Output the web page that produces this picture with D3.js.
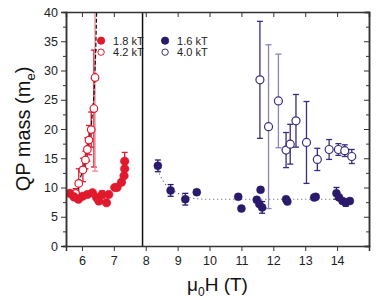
<!DOCTYPE html>
<html>
<head>
<meta charset="utf-8">
<script src="https://cdn.jsdelivr.net/npm/d3@7"></script>
<style>
  body { margin: 0; background: #fff; }
  text { font-family: "Liberation Sans", Arial, sans-serif; }
</style>
</head>
<body>
<div id="chart"></div>
<script>
// data: [field (T), mass (m_e), error]
var red18 = [[5.62,9.0,0],[5.75,8.4,0],[5.89,8.0,0],[6.02,8.5,0],[6.17,8.8,0],[6.33,9.1,0],
  [6.46,8.3,0],[6.53,7.7,0.5],[6.63,8.8,0.6],[6.77,7.4,0],[6.84,8.8,0],[7.03,10.0,0],[7.1,10.0,0],
  [7.24,10.9,0],[7.32,12.0,0],[7.34,13.2,1.3],[7.34,14.5,1.5]];
var red42 = [[5.8,9.0,0.8],[5.9,10.7,2.5],[6.03,13.0,2.0],[6.11,14.7,1.5],[6.17,16.5,2],
  [6.22,18.1,2.5],[6.29,19.9,3],[6.375,23.5,10],[6.41,28.8,16]];
var red42Light = [false,false,false,false,false,false,false,false,true];
var blue16 = [[8.38,13.7,1.0],[8.78,9.5,1.0],[9.24,8.0,1.0],[9.6,9.2,0.4],[10.9,8.4,0],[11.0,6.4,0],
  [11.6,9.6,0],[11.48,7.9,0],[11.56,7.2,0],[11.65,6.6,1.0],[12.4,8.0,0],[12.44,7.6,0],
  [13.28,8.3,0],[13.33,8.4,0],[13.98,9.0,1.0],[14.06,8.3,0],[14.17,7.7,0],[14.27,7.4,0.6],[14.4,7.7,0]];
var blue40 = [[11.58,28.4,10],[11.85,20.4,14],[12.16,24.8,8],[12.4,16.4,3],[12.53,17.4,3.4],
  [12.71,21.4,4.5],[13.04,17.7,7],[13.38,14.8,1.9],[13.75,16.5,1.7],[14.04,16.5,1],[14.24,16.3,1],[14.46,15.3,1.2]];
var blue40Light = [false,true,true,false,false,false,false,false,false,false,false,false];
var redFit = [[5.85,8.7],[5.96,11.8],[6.1,14.5],[6.2,17],[6.3,21],[6.38,26],[6.43,33],[6.46,40]];
var redFlat = [[5.62,8.6],[6.87,8.6]];
var blueFit = [[8.38,13.7],[8.44,12.1],[8.59,10.7],[8.75,9.9],[8.96,9.1],[9.17,8.7],[9.48,8.15],[9.8,8.0],[14.47,8.0]];
var divider = 7.9;
var xTicks = [6,7,8,9,10,11,12,13,14];
var yTicks = [0,5,10,15,20,25,30,35,40];
var yMinor = [2.5,7.5,12.5,17.5,22.5,27.5,32.5,37.5];
var legend = [
  {label:"1.8 kT", color:"#e0192d", filled:true, col:0, row:0},
  {label:"4.2 kT", color:"#e0192d", filled:false, col:0, row:1},
  {label:"1.6 kT", color:"#2b1a6b", filled:true, col:1, row:0},
  {label:"4.0 kT", color:"#3a2c7e", filled:false, col:1, row:1}
];

var W = 382, H = 304;
var margin = {top: 12, right: 13, bottom: 58, left: 66};
var width = W - margin.left - margin.right, height = H - margin.top - margin.bottom;

var svg = d3.select("#chart").append("svg").attr("width", W).attr("height", H);
var g = svg.append("g").attr("transform", "translate(" + margin.left + "," + margin.top + ")");

var x = d3.scaleLinear().domain([5.5, 15]).range([0, width]);
var y = d3.scaleLinear().domain([0, 40]).range([height, 0]);

svg.append("defs").append("clipPath").attr("id", "clip")
  .append("rect").attr("width", width).attr("height", height);

var plot = g.append("g").attr("clip-path", "url(#clip)");

// trennlinie
plot.append("line").attr("x1", x(divider)).attr("x2", x(divider))
  .attr("y1", 0).attr("y2", height).attr("stroke", "#111").attr("stroke-width", 1.5);

var line = d3.line().x(function(d){ return x(d[0]); }).y(function(d){ return y(d[1]); });

function errBars(data, color, lightArr, lightColor) {
  data.forEach(function(d, i) {
    if (!d[2]) return;
    var c = (lightArr && lightArr[i]) ? lightColor : color;
    var gx = x(d[0]);
    plot.append("line").attr("x1", gx).attr("x2", gx)
      .attr("y1", y(d[1] + d[2])).attr("y2", y(d[1] - d[2]))
      .attr("stroke", c).attr("stroke-width", 1.3);
    [d[1] + d[2], d[1] - d[2]].forEach(function(v) {
      plot.append("line").attr("x1", gx - 3).attr("x2", gx + 3)
        .attr("y1", y(v)).attr("y2", y(v)).attr("stroke", c).attr("stroke-width", 1.3);
    });
  });
}

errBars(red42, "#e0192d", red42Light, "#ef8a96");
errBars(red18, "#e0192d");
errBars(blue40, "#3a2c7e", blue40Light, "#8c82bd");
errBars(blue16, "#2b1a6b");

plot.append("path").datum(redFit).attr("d", line).attr("fill", "none")
  .attr("stroke", "#111").attr("stroke-width", 1.2).attr("stroke-dasharray", "4,2");
plot.append("path").datum(redFlat).attr("d", line).attr("fill", "none")
  .attr("stroke", "#222").attr("stroke-width", 1).attr("stroke-dasharray", "1,3");
plot.append("path").datum(blueFit).attr("d", line).attr("fill", "none")
  .attr("stroke", "#555").attr("stroke-width", 1.1).attr("stroke-dasharray", "1,3");

function dots(data, color, filled, r) {
  plot.selectAll(null).data(data).enter().append("circle")
    .attr("cx", function(d){ return x(d[0]); })
    .attr("cy", function(d){ return y(d[1]); })
    .attr("r", r)
    .attr("fill", filled ? color : "#fff")
    .attr("stroke", color).attr("stroke-width", filled ? 0.5 : 1.2);
}
dots(red42, "#e0192d", false, 3.8);
dots(red18, "#e0192d", true, 4.3);
dots(blue40, "#3a2c7e", false, 4);
dots(blue16, "#2b1a6b", true, 4);

// achsen
var axisColor = "#333";
var axBottom = g.append("g").attr("transform", "translate(0," + height + ")")
  .call(d3.axisBottom(x).tickValues(xTicks).tickSize(5).tickPadding(5).tickFormat(d3.format("d")));
var axTop = g.append("g").call(d3.axisTop(x).tickValues(xTicks).tickSize(-5).tickFormat(""));
var axLeft = g.append("g")
  .call(d3.axisLeft(y).tickValues(yTicks).tickSize(5).tickPadding(3).tickFormat(d3.format("d")));
var axLeftMinor = g.append("g").call(d3.axisLeft(y).tickValues(yMinor).tickSize(3).tickFormat(""));
var axRight = g.append("g").attr("transform", "translate(" + width + ",0)")
  .call(d3.axisRight(y).tickValues(yTicks).tickSize(-5).tickFormat(""));
var axRightMinor = g.append("g").attr("transform", "translate(" + width + ",0)")
  .call(d3.axisRight(y).tickValues(yMinor).tickSize(-3).tickFormat(""));

[axBottom, axTop, axLeft, axLeftMinor, axRight, axRightMinor].forEach(function(a) {
  a.select(".domain").attr("stroke", axisColor).attr("stroke-width", 1.5);
  a.selectAll(".tick line").attr("stroke", axisColor).attr("stroke-width", 1);
  a.selectAll("text").attr("font-size", 12.5).attr("fill", "#222")
    .style("font-family", "'Liberation Sans', Arial, sans-serif");
});

// legende
var leg = g.append("g").attr("transform", "translate(" + (x(6.6)) + "," + (y(35.1)) + ")");
legend.forEach(function(l) {
  var lg = leg.append("g").attr("transform", "translate(" + (l.col * 64) + "," + (l.row * 11.5) + ")");
  lg.append("circle").attr("r", l.filled ? 3.6 : 3.2)
    .attr("fill", l.filled ? l.color : "#fff").attr("stroke", l.color).attr("stroke-width", 1);
  lg.append("text").attr("x", 12).attr("y", 4).attr("font-size", 11).attr("fill", "#222").text(l.label);
});

// achsentitel
var yl = svg.append("text").attr("transform", "translate(30," + (margin.top + height / 2) + ") rotate(-90)")
  .attr("text-anchor", "middle").attr("font-size", 20).attr("fill", "#111");
yl.append("tspan").text("QP mass (m");
yl.append("tspan").attr("font-size", 13).attr("dy", 5).text("e");
yl.append("tspan").attr("dy", -5).text(")");

var xl = svg.append("text").attr("x", margin.left + width / 2).attr("y", 291)
  .attr("text-anchor", "middle").attr("font-size", 19).attr("fill", "#111");
xl.append("tspan").text("\u03bc");
xl.append("tspan").attr("font-size", 12).attr("dy", 5).text("0");
xl.append("tspan").attr("dy", -5).text("H (T)");
</script>
</body>
</html>
